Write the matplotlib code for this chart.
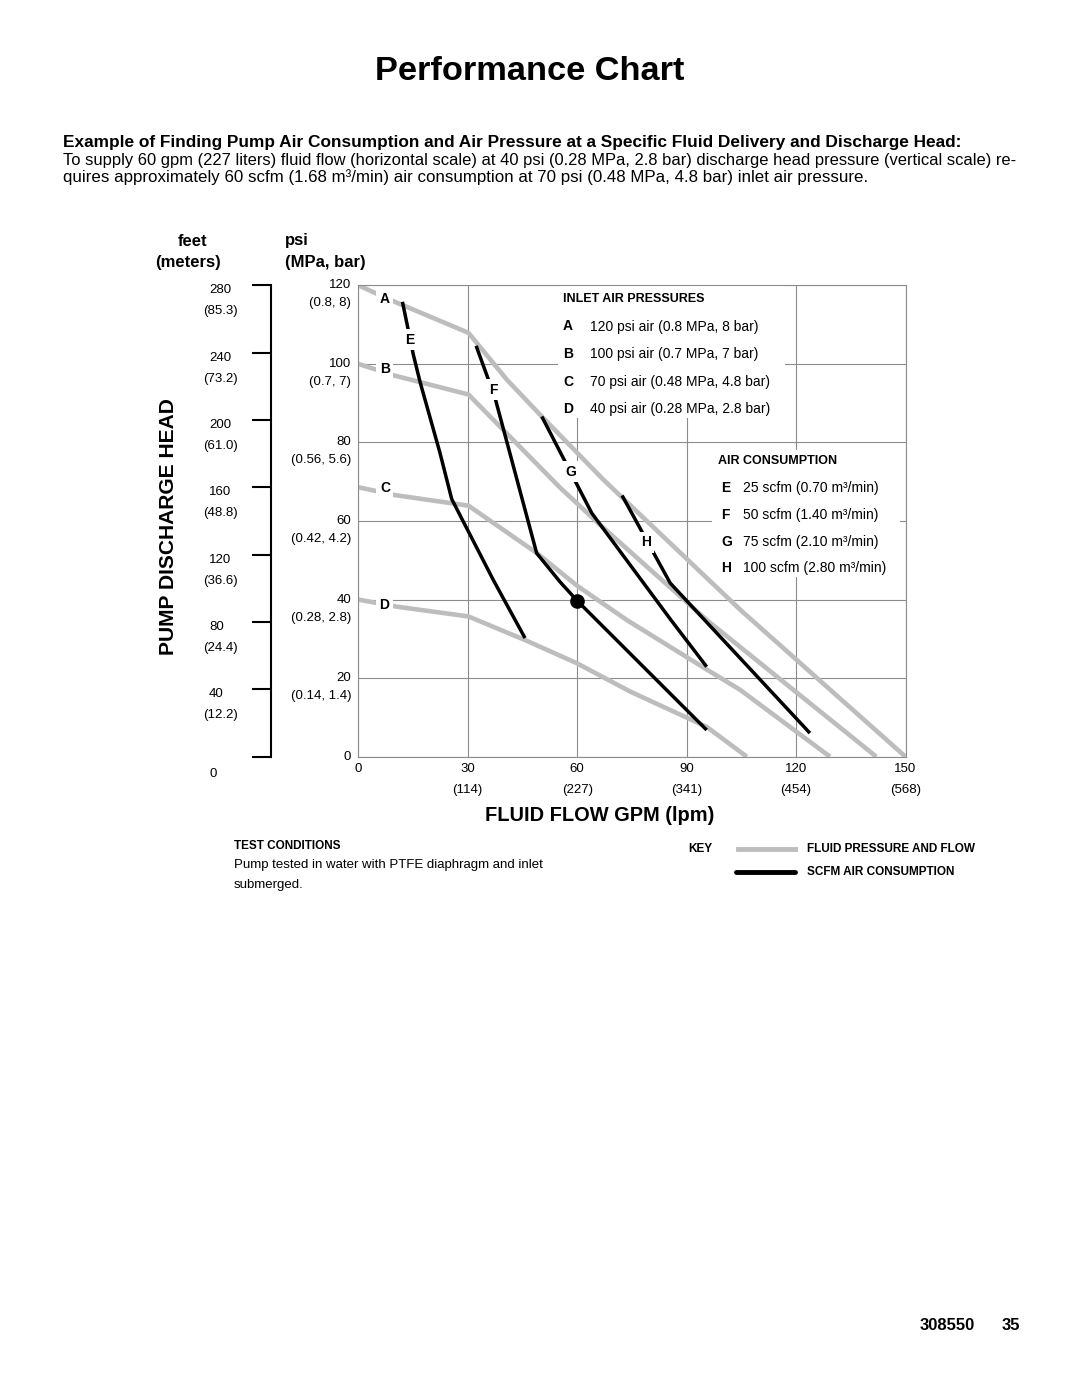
import matplotlib
matplotlib.use("Agg")
import matplotlib.pyplot as plt
from matplotlib import font_manager
from matplotlib.lines import Line2D
from matplotlib.patches import Rectangle

# fluid pressure and flow curves: flow (gpm) vs discharge head (psi)
flow_a = [0, 10, 30.2, 40.7, 50.3, 67.2, 104.7, 150]
head_a = [120, 115.8, 107.9, 96, 86.6, 70.5, 37.4, 0]
flow_b = [0, 10, 30.2, 55.3, 66.3, 95.5, 142]
head_b = [100, 97, 92.2, 68.5, 59, 34.8, 0]
flow_c = [0, 10, 30.2, 49, 60, 73.6, 95.5, 104.7, 129.3]
head_c = [68.6, 66.6, 63.9, 51.8, 43.5, 34.8, 22.2, 17.0, 0]
flow_d = [0, 10.5, 30.2, 45.7, 59.9, 74.5, 95.5, 106.5]
head_d = [40, 38.2, 35.7, 29.7, 23.8, 16.6, 7.6, 0]

# scfm air consumption curves
flow_e = [12.1, 15.1, 16.9, 22.4, 25.6, 37, 45.7]
head_e = [115.8, 102.3, 95.5, 77.3, 65.6, 45, 30.2]
flow_f = [32.3, 37.5, 48.9, 55.3, 60, 95.5]
head_f = [104.6, 91.3, 51.8, 44.5, 39.7, 6.8]
flow_g = [50.3, 64, 85.7, 95.5]
head_g = [86.6, 62, 34.8, 22.9]
flow_h = [72.3, 85.5, 123.8]
head_h = [66.5, 44.2, 6.0]

# worked example: 60 gpm at 40 psi
example_flow = 60
example_head = 39.7

gpm_ticks = [0, 30, 60, 90, 120, 150]
lpm_labels = ["", "(114)", "(227)", "(341)", "(454)", "(568)"]
psi_ticks = [0, 20, 40, 60, 80, 100, 120]
mpa_labels = ["", "(0.14, 1.4)", "(0.28, 2.8)", "(0.42, 4.2)", "(0.56, 5.6)", "(0.7, 7)", "(0.8, 8)"]
feet_ticks = [0, 40, 80, 120, 160, 200, 240, 280]
meter_labels = ["", "(12.2)", "(24.4)", "(36.6)", "(48.8)", "(61.0)", "(73.2)", "(85.3)"]

pressure_keys = ["A", "B", "C", "D"]
pressure_text = ["120 psi air (0.8 MPa, 8 bar)", "100 psi air (0.7 MPa, 7 bar)",
                 "70 psi air (0.48 MPa, 4.8 bar)", "40 psi air (0.28 MPa, 2.8 bar)"]
air_keys = ["E", "F", "G", "H"]
air_text = ["25 scfm (0.70 m³/min)", "50 scfm (1.40 m³/min)",
            "75 scfm (2.10 m³/min)", "100 scfm (2.80 m³/min)"]

W, H = 1080, 1397
names = {f.name for f in font_manager.fontManager.ttflist}
narrow = "Liberation Sans Narrow" if "Liberation Sans Narrow" in names else "Liberation Sans"
plt.rcParams["font.family"] = "Liberation Sans"

fig = plt.figure(figsize=(W / 100, H / 100), dpi=100)
fig.patch.set_facecolor("white")


def fx(x):
    return x / W


def fy(y):
    return 1 - y / H


def fit(t, width):
    # scale the font so the text spans `width` pixels
    r = fig.canvas.get_renderer()
    bb = t.get_window_extent(renderer=r)
    w = bb.height if t.get_rotation() == 90 else bb.width
    t.set_fontsize(t.get_fontsize() * width / w)


GRAY = "#bdbdbd"
GRID = "#8c8c8c"

# main chart
ax = fig.add_axes([fx(358.3), fy(756.7), (905.5 - 358.3) / W, (756.7 - 285.3) / H])
ax.set_xlim(0, 150)
ax.set_ylim(0, 120)
ax.set_xticks(gpm_ticks)
ax.set_yticks(psi_ticks)
ax.set_axisbelow(True)
ax.grid(True, color=GRID, lw=0.8)
ax.tick_params(length=0, labelbottom=False, labelleft=False)
for s in ax.spines.values():
    s.set_color(GRID)
    s.set_linewidth(0.8)

# white areas behind the legend text blocks
ax.add_patch(Rectangle((0.365, 0.7185), 0.415, 0.28, transform=ax.transAxes,
                       facecolor="white", edgecolor="none", zorder=1))
ax.add_patch(Rectangle((0.646, 0.381), 0.344, 0.27, transform=ax.transAxes,
                       facecolor="white", edgecolor="none", zorder=1))

for xs, ys in [(flow_a, head_a), (flow_b, head_b), (flow_c, head_c), (flow_d, head_d)]:
    ax.plot(xs, ys, color=GRAY, lw=3.3, solid_capstyle="butt", zorder=2)
for xs, ys in [(flow_e, head_e), (flow_f, head_f), (flow_g, head_g), (flow_h, head_h)]:
    ax.plot(xs, ys, color="black", lw=2.5, solid_capstyle="butt", zorder=3)
ax.plot([example_flow], [example_head], "o", color="black", ms=9.5, zorder=4)

# curve letters
curve_labels = {"A": (7.3, 116.6), "B": (7.3, 98.8), "C": (7.3, 68.4), "D": (7.1, 38.6),
                "E": (14.0, 106.2), "F": (36.9, 93.4), "G": (58.3, 72.6), "H": (78.8, 54.6)}
for k, (x, y) in curve_labels.items():
    ax.text(x, y, k, ha="center", va="center", fontsize=10, fontweight="bold", zorder=5,
            bbox=dict(facecolor="white", edgecolor="none", pad=2.5))

# axis labels
for v, lab in zip(gpm_ticks, lpm_labels):
    ax.annotate(str(v), xy=(v, 0), xycoords=ax.get_xaxis_transform(), xytext=(0, -12),
                textcoords="offset pixels", ha="center", va="center", fontsize=9.5)
    if lab:
        ax.annotate(lab, xy=(v, 0), xycoords=ax.get_xaxis_transform(), xytext=(0, -33),
                    textcoords="offset pixels", ha="center", va="center", fontsize=9.5)
for v, lab in zip(psi_ticks, mpa_labels):
    ax.annotate(str(v), xy=(0, v), xycoords=ax.get_yaxis_transform(), xytext=(-7, 0),
                textcoords="offset pixels", ha="right", va="center", fontsize=9.5)
    if lab:
        ax.annotate(lab, xy=(0, v), xycoords=ax.get_yaxis_transform(), xytext=(-7, -18),
                    textcoords="offset pixels", ha="right", va="center", fontsize=9.5)

# feet / meters bracket scale
axf = fig.add_axes([fx(211), fy(756.7), fx(271) - fx(211), (756.7 - 285.3) / H])
axf.set_ylim(0, 280)
axf.set_yticks(feet_ticks)
axf.patch.set_visible(False)
axf.xaxis.set_visible(False)
for side in ["left", "top", "bottom"]:
    axf.spines[side].set_visible(False)
axf.spines["right"].set_linewidth(1.5)
axf.tick_params(axis="y", left=False, right=True, direction="in", length=14, width=1.5,
                labelleft=False, labelright=False)
for v, lab in zip(feet_ticks, meter_labels):
    dy = -17 if v == 0 else -5
    axf.annotate(str(v), xy=(1, v), xycoords=axf.get_yaxis_transform(), xytext=(-62, dy),
                 textcoords="offset pixels", ha="left", va="center", fontsize=9.5)
    if lab:
        axf.annotate(lab, xy=(1, v), xycoords=axf.get_yaxis_transform(), xytext=(-68, -26),
                     textcoords="offset pixels", ha="left", va="center", fontsize=9.5)

fig.text(fx(178), fy(241), "feet", ha="left", va="center", fontsize=12, fontweight="bold")
fig.text(fx(155), fy(262), "(meters)", ha="left", va="center", fontsize=12, fontweight="bold")
fig.text(fx(285), fy(241), "psi", ha="left", va="center", fontsize=12, fontweight="bold")
fig.text(fx(285), fy(262), "(MPa, bar)", ha="left", va="center", fontsize=12, fontweight="bold")

t = fig.text(fx(169), fy(527), "PUMP DISCHARGE HEAD", rotation=90, ha="center", va="center",
             fontsize=15, fontweight="bold")
fit(t, 257)
t = fig.text(fx(600), fy(816), "FLUID FLOW GPM (lpm)", ha="center", va="center",
             fontsize=12, fontweight="bold")
fit(t, 229)

# legend blocks inside the chart
fig.text(fx(563), fy(299), "INLET AIR PRESSURES", ha="left", va="center", fontsize=9, fontweight="bold")
for i, (k, s) in enumerate(zip(pressure_keys, pressure_text)):
    y = 326.5 + i * 27.6
    fig.text(fx(563), fy(y), k, ha="left", va="center", fontsize=10, fontweight="bold")
    fig.text(fx(590), fy(y), s, ha="left", va="center", fontsize=10)
fig.text(fx(718), fy(460.5), "AIR CONSUMPTION", ha="left", va="center", fontsize=9, fontweight="bold")
for i, (k, s) in enumerate(zip(air_keys, air_text)):
    y = 488.3 + i * 26.7
    fig.text(fx(721), fy(y), k, ha="left", va="center", fontsize=10, fontweight="bold")
    fig.text(fx(743), fy(y), s, ha="left", va="center", fontsize=10)

# title and explanation
t = fig.text(fx(530), fy(80), "Performance Chart", ha="center", va="baseline",
             fontsize=34, fontweight="bold", family=narrow)
fit(t, 310)
t = fig.text(fx(63), fy(143), "Example of Finding Pump Air Consumption and Air Pressure at a "
             "Specific Fluid Delivery and Discharge Head:", ha="left", va="center",
             fontsize=10, fontweight="bold", family=narrow)
fit(t, 902)
t2 = fig.text(fx(63), fy(160), "To supply 60 gpm (227 liters) fluid flow (horizontal scale) at 40 psi "
              "(0.28 MPa, 2.8 bar) discharge head pressure (vertical scale) re-",
              ha="left", va="center", fontsize=10, family=narrow)
fit(t2, 949)
t3 = fig.text(fx(63), fy(177), "quires approximately 60 scfm (1.68 m³/min) air consumption at 70 psi "
              "(0.48 MPa, 4.8 bar) inlet air pressure.", ha="left", va="center",
              fontsize=10, family=narrow)
fit(t3, 803)

# test conditions and key
fig.text(fx(234), fy(846), "TEST CONDITIONS", ha="left", va="center", fontsize=8.5, fontweight="bold")
fig.text(fx(234), fy(865), "Pump tested in water with PTFE diaphragm and inlet",
         ha="left", va="center", fontsize=9.5)
fig.text(fx(234), fy(885), "submerged.", ha="left", va="center", fontsize=9.5)
fig.text(fx(688), fy(849), "KEY", ha="left", va="center", fontsize=8.5, fontweight="bold")
fig.add_artist(Line2D([fx(738), fx(795)], [fy(849), fy(849)], color=GRAY, lw=3.5))
fig.add_artist(Line2D([fx(736), fx(795)], [fy(872), fy(872)], color="black", lw=3.5,
                      solid_capstyle="round"))
fig.text(fx(807), fy(849), "FLUID PRESSURE AND FLOW", ha="left", va="center", fontsize=8.5, fontweight="bold")
fig.text(fx(807), fy(872), "SCFM AIR CONSUMPTION", ha="left", va="center", fontsize=8.5, fontweight="bold")

# page footer
fig.text(fx(975), fy(1326), "308550", ha="right", va="center", fontsize=12, fontweight="bold")
fig.text(fx(1020), fy(1326), "35", ha="right", va="center", fontsize=12, fontweight="bold")

fig.savefig("out.png", dpi=100, facecolor="white")
